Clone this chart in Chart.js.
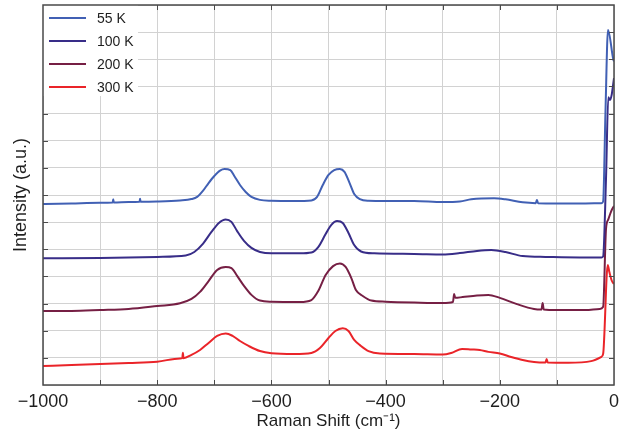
<!DOCTYPE html>
<html>
<head>
<meta charset="utf-8">
<script src="https://cdn.jsdelivr.net/npm/chart.js@4.4.1/dist/chart.umd.min.js"></script>
<style>
  html, body { margin: 0; padding: 0; background: #ffffff; }
  #wrap { width: 630px; height: 438px; position: relative; }
</style>
</head>
<body>
<div id="wrap"><canvas id="c" width="630" height="438"></canvas></div>
<script>
// ---------- data ----------
const seriesNames = ['55 K', '100 K', '200 K', '300 K'];
const seriesColors = ['#4160b4', '#382d88', '#761f44', '#ea2429'];

const shift55 = [-1000,-950,-900,-878,-877,-876,-850,-831,-830,-829,-800,-760,-740,-730,-720,-710,-700,-690,-682,-672,-665,-655,-645,-635,-620,-600,-560,-530,-520,-510,-500,-490,-480,-472,-463,-455,-445,-430,-400,-350,-300,-270,-250,-210,-190,-160,-137,-135,-133,-100,-50,-22,-19,-15,-10.5,-1,0];
const int55   = [6.67,6.69,6.71,6.72,6.84,6.72,6.74,6.75,6.86,6.75,6.76,6.80,6.85,6.93,7.15,7.44,7.70,7.90,7.96,7.92,7.70,7.37,7.11,6.93,6.82,6.79,6.78,6.80,6.93,7.37,7.74,7.92,7.96,7.85,7.44,7.04,6.85,6.79,6.78,6.78,6.74,6.76,6.84,6.88,6.84,6.73,6.70,6.82,6.70,6.69,6.69,6.70,6.76,10.0,13.08,11.97,11.93];

const shift100 = [-1000,-900,-800,-750,-735,-720,-705,-692,-680,-670,-660,-648,-635,-620,-600,-550,-530,-518,-505,-495,-485,-475,-465,-455,-443,-420,-350,-300,-270,-240,-215,-190,-160,-120,-60,-22,-19,-14,-10,-7,-4,0];
const int100   = [4.67,4.68,4.72,4.77,4.90,5.20,5.64,5.97,6.10,6.01,5.67,5.31,5.05,4.90,4.85,4.85,4.88,5.08,5.56,5.90,6.04,5.97,5.60,5.16,4.92,4.85,4.83,4.81,4.86,4.94,4.97,4.90,4.75,4.72,4.70,4.70,4.74,7.6,10.6,10.5,10.7,11.31];

const shift200 = [-1000,-950,-900,-850,-800,-760,-740,-725,-710,-695,-680,-670,-660,-648,-635,-620,-600,-550,-530,-518,-505,-492,-480,-470,-460,-452,-440,-425,-400,-350,-300,-282,-280,-278,-265,-240,-220,-200,-170,-140,-127,-125,-123,-100,-50,-25,-19,-14,-10,-5,0];
const int200   = [2.73,2.73,2.76,2.80,2.91,3.01,3.17,3.43,3.83,4.24,4.35,4.31,4.02,3.65,3.32,3.11,3.07,3.06,3.13,3.46,4.05,4.38,4.48,4.35,3.94,3.50,3.28,3.11,3.07,3.04,3.02,3.06,3.35,3.21,3.24,3.30,3.32,3.21,2.98,2.80,2.78,3.02,2.78,2.76,2.76,2.80,2.88,5.75,6.1,6.4,6.6];

const shift300 = [-1000,-950,-900,-850,-800,-760,-756,-755,-754,-740,-725,-710,-695,-680,-668,-655,-640,-620,-600,-560,-530,-515,-500,-488,-475,-465,-455,-445,-430,-410,-350,-300,-285,-266,-250,-235,-220,-200,-180,-160,-140,-120,-118,-116,-80,-40,-22,-19,-11,-8,-4,0];
const int300   = [0.70,0.74,0.77,0.81,0.86,0.98,0.99,1.19,0.99,1.11,1.29,1.55,1.81,1.90,1.81,1.62,1.44,1.25,1.17,1.14,1.18,1.36,1.73,1.99,2.09,1.99,1.66,1.47,1.25,1.16,1.14,1.12,1.18,1.33,1.31,1.29,1.22,1.16,1.03,0.92,0.85,0.83,0.96,0.83,0.82,0.88,1.04,1.15,4.42,4.15,3.85,3.72];

const xTickStep = 100;
const xLabelStep = 200;
const xMin = -1000, xMax = 0;
const yMin = 0, yMax = 14, yTickStep = 1;
const xTitle = 'Raman Shift (cm\u207B\u00B9)';
const yTitle = 'Intensity (a.u.)';

// ---------- build ----------
const shifts = [shift55, shift100, shift200, shift300];
const ints = [int55, int100, int200, int300];
const datasets = seriesNames.map((name, i) => ({
  label: name,
  data: shifts[i].map((x, j) => ({ x: x, y: ints[i][j] })),
  borderColor: seriesColors[i],
  backgroundColor: seriesColors[i],
  borderWidth: 2,
  pointRadius: 0,
  showLine: true,
  fill: false,
  cubicInterpolationMode: 'monotone'
}));

const FONT = '"Liberation Sans", Arial, Helvetica, sans-serif';
const GRID = '#d2d2d2';
const AXIS = '#4a4a4a';

const framePlugin = {
  id: 'frame',
  afterDatasetsDraw(chart) {
    const ctx = chart.ctx;
    const ca = chart.chartArea;
    const xs = chart.scales.x, ys = chart.scales.y;
    ctx.save();
    ctx.strokeStyle = AXIS;
    ctx.lineWidth = 1;
    const tl = 5;
    ctx.beginPath();
    xs.ticks.forEach(t => {
      if (t.value <= xMin || t.value >= xMax) return;
      const p = Math.round(xs.getPixelForValue(t.value)) + 0.5;
      ctx.moveTo(p, ca.bottom); ctx.lineTo(p, ca.bottom - tl);
      ctx.moveTo(p, ca.top); ctx.lineTo(p, ca.top + tl);
    });
    ys.ticks.forEach(t => {
      if (t.value <= yMin || t.value >= yMax) return;
      const p = Math.round(ys.getPixelForValue(t.value)) + 0.5;
      ctx.moveTo(ca.left, p); ctx.lineTo(ca.left + tl, p);
      ctx.moveTo(ca.right, p); ctx.lineTo(ca.right - tl, p);
    });
    ctx.stroke();

    // legend inside the plot, top-left
    ctx.fillStyle = '#ffffff';
    ctx.fillRect(ca.left, ca.top, 95, 91);
    ctx.font = '14px ' + FONT;
    ctx.textBaseline = 'middle';
    ctx.textAlign = 'left';
    seriesNames.forEach((name, i) => {
      const y = ca.top + 13 + i * 23;
      ctx.strokeStyle = seriesColors[i];
      ctx.lineWidth = 2;
      ctx.beginPath();
      ctx.moveTo(ca.left + 6, y);
      ctx.lineTo(ca.left + 43, y);
      ctx.stroke();
      ctx.fillStyle = '#1e1e1e';
      ctx.fillText(name, ca.left + 54, y + 1);
    });

    // frame
    ctx.strokeStyle = AXIS;
    ctx.lineWidth = 1.5;
    ctx.strokeRect(ca.left, ca.top, ca.right - ca.left, ca.bottom - ca.top);
    ctx.restore();
  }
};

new Chart(document.getElementById('c'), {
  type: 'scatter',
  data: { datasets },
  options: {
    responsive: false,
    animation: false,
    devicePixelRatio: 1,
    layout: { padding: { top: 5, right: 16, left: 0, bottom: 0 } },
    plugins: { legend: { display: false }, tooltip: { enabled: false } },
    scales: {
      x: {
        type: 'linear',
        min: xMin, max: xMax,
        afterFit: s => { s.height = 53; },
        border: { display: false },
        grid: { color: GRID, lineWidth: 1, drawTicks: false },
        ticks: {
          stepSize: xTickStep,
          autoSkip: false,
          maxRotation: 0,
          padding: 6,
          color: '#1e1e1e',
          font: { family: FONT, size: 18 },
          callback: v => (Math.round(v) % xLabelStep === 0) ? (v < 0 ? '\u2212' + Math.abs(v) : String(v)) : ''
        },
        title: {
          display: true,
          text: xTitle,
          color: '#1e1e1e',
          font: { family: FONT, size: 17 },
          padding: { top: 0, bottom: 6 }
        }
      },
      y: {
        type: 'linear',
        min: yMin, max: yMax,
        afterFit: s => { s.width = 43; },
        border: { display: false },
        grid: { color: GRID, lineWidth: 1, drawTicks: false },
        ticks: { stepSize: yTickStep, display: false },
        title: {
          display: true,
          text: yTitle,
          color: '#1e1e1e',
          font: { family: FONT, size: 18 },
          padding: { top: 10, bottom: 0 }
        }
      }
    }
  },
  plugins: [framePlugin]
});
</script>
</body>
</html>
